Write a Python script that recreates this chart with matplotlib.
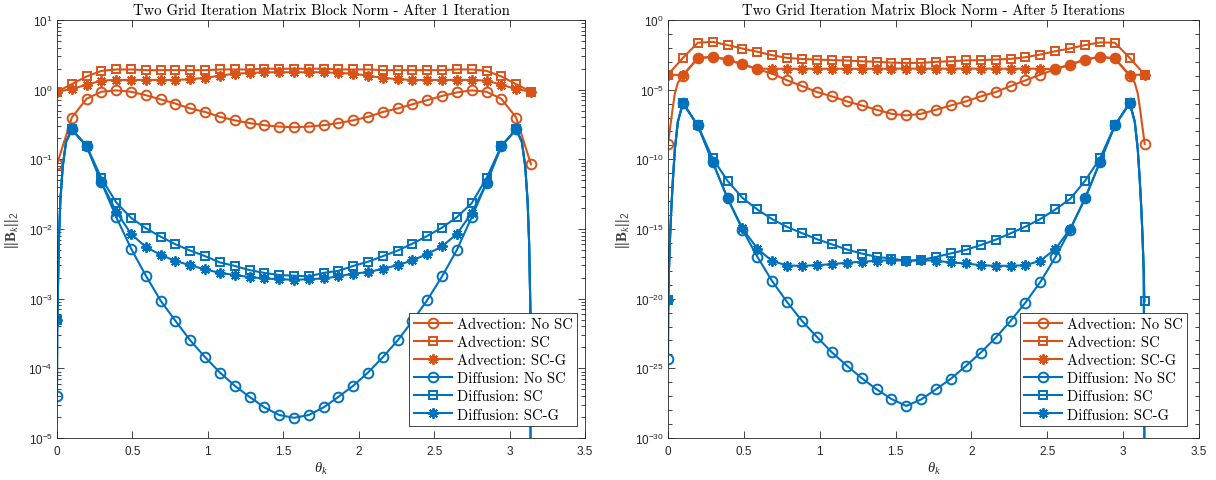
import numpy as np
import matplotlib
matplotlib.use("Agg")
import matplotlib.pyplot as plt
from matplotlib.ticker import FixedLocator, FuncFormatter, NullFormatter

plt.rcParams.update({
    "mathtext.fontset": "custom",
    "mathtext.rm": "Liberation Sans",
    "mathtext.it": "Liberation Serif:italic",
    "mathtext.bf": "Liberation Serif:bold",
    "font.family": "Liberation Sans",
})

# ---------------- data (log10 of the block norm) ----------------
theta = np.linspace(0, np.pi, 33)  # theta_k grid, k = 0..32
nan = np.nan

# After 1 iteration
adv_nosc_1 = [-1.07, -0.40, -0.13, -0.03, -0.01, -0.03, -0.08, -0.14, -0.20, -0.27, -0.32,
              -0.39, -0.44, -0.48, -0.51, -0.53, -0.54, -0.53, -0.51, -0.48, -0.44, -0.39,
              -0.32, -0.27, -0.21, -0.15, -0.09, -0.04, -0.01, -0.03, -0.13, -0.40, -1.07]
adv_sc_1 = [-0.03, 0.08, 0.19, 0.27, 0.29, 0.29, 0.28, 0.28, 0.28, 0.28, 0.28, 0.29, 0.29,
            0.29, 0.30, 0.30, 0.30, 0.30, 0.30, 0.29, 0.29, 0.29, 0.28, 0.28, 0.28, 0.28,
            0.28, 0.29, 0.29, 0.27, 0.19, 0.08, -0.03]
adv_scg_1 = [-0.03, 0.01, 0.07, 0.13, 0.14, 0.14, 0.14, 0.14, 0.14, 0.15, 0.17, 0.20, 0.23,
             0.24, 0.25, 0.25, 0.25, 0.25, 0.25, 0.24, 0.23, 0.20, 0.17, 0.15, 0.14, 0.14,
             0.14, 0.14, 0.14, 0.13, 0.07, 0.01, -0.03]
dif_nosc_1 = [-4.40, -0.57, -0.81, -1.33, -1.83, -2.28, -2.67, -3.03, -3.32, -3.60, -3.84,
              -4.06, -4.25, -4.41, -4.56, -4.67, -4.71, -4.67, -4.56, -4.41, -4.25, -4.06,
              -3.84, -3.60, -3.32, -3.02, -2.68, -2.30, -1.83, -1.34, -0.81, -0.57, nan]
dif_sc_1 = [-3.30, -0.57, -0.81, -1.27, -1.62, -1.84, -1.99, -2.11, -2.22, -2.31, -2.39,
            -2.48, -2.53, -2.59, -2.63, -2.66, -2.67, -2.68, -2.63, -2.60, -2.53, -2.47,
            -2.39, -2.31, -2.21, -2.10, -1.98, -1.83, -1.63, -1.27, -0.81, -0.57, -3.30]
dif_scg_1 = [-3.30, -0.57, -0.81, -1.33, -1.75, -2.07, -2.26, -2.37, -2.46, -2.52, -2.58,
             -2.63, -2.66, -2.69, -2.71, -2.72, -2.73, -2.72, -2.71, -2.68, -2.64, -2.62,
             -2.57, -2.52, -2.45, -2.36, -2.25, -2.07, -1.77, -1.34, -0.81, -0.57, nan]

# After 5 iterations
adv_nosc_5 = [-8.87, -4.00, -2.74, -2.64, -2.84, -3.18, -3.53, -3.85, -4.33, -4.74, -5.17,
              -5.48, -5.84, -6.13, -6.44, -6.73, -6.85, -6.73, -6.44, -6.13, -5.84, -5.48,
              -5.17, -4.74, -4.33, -3.92, -3.53, -3.20, -2.84, -2.64, -2.76, -4.01, -8.89]
adv_sc_5 = [-3.92, -2.72, -1.63, -1.57, -1.80, -2.05, -2.28, -2.53, -2.72, -2.80, -2.84,
            -2.88, -2.91, -2.96, -3.00, -3.06, -3.08, -3.08, -3.00, -2.96, -2.90, -2.88,
            -2.84, -2.79, -2.67, -2.48, -2.24, -2.04, -1.80, -1.61, -1.63, -2.72, -3.92]
adv_scg_5 = [-3.92, -3.95, -2.74, -2.64, -2.84, -3.18, -3.50, -3.50, -3.50, -3.50, -3.50,
             -3.50, -3.50, -3.50, -3.50, -3.49, -3.49, -3.49, -3.49, -3.49, -3.49, -3.49,
             -3.49, -3.50, -3.49, -3.50, -3.53, -3.20, -2.84, -2.64, -2.76, -3.95, -3.92]
dif_nosc_5 = [-24.3, -5.96, -7.57, -10.2, -12.8, -15.05, -17.0, -18.75, -20.25, -21.6, -22.75,
              -23.85, -24.8, -25.7, -26.5, -27.2, -27.7, -27.23, -26.5, -25.74, -24.83, -23.87,
              -22.8, -21.6, -20.28, -18.8, -17.04, -15.05, -12.8, -10.2, -7.57, -5.96, nan]
dif_sc_5 = [-20.1, -5.96, -7.57, -9.93, -11.55, -12.77, -13.6, -14.3, -14.85, -15.3, -15.73,
            -16.1, -16.47, -16.76, -17.0, -17.12, -17.28, -17.23, -17.0, -16.75, -16.5, -16.15,
            -15.77, -15.31, -14.83, -14.28, -13.6, -12.84, -11.54, -9.93, -7.57, -5.96, -20.2]
dif_scg_5 = [-20.1, -5.96, -7.57, -10.2, -12.8, -14.95, -16.42, -17.3, -17.62, -17.64, -17.6,
             -17.52, -17.42, -17.35, -17.28, -17.24, -17.28, -17.23, -17.28, -17.4, -17.47, -17.6,
             -17.64, -17.64, -17.6, -17.28, -16.44, -15.0, -12.8, -10.2, -7.57, -5.96, nan]

# extra points of the finely sampled curves next to theta = 0 and theta = pi
# (distance from the end of the interval, log10 value read off the picture)
edge_dist_1 = [0.005, 0.012, 0.022, 0.038, 0.06]
dif_edge_1 = [-3.0, -2.2, -1.6, -1.1, -0.75]
edge_dist_5 = [0.006, 0.014, 0.022, 0.032, 0.045, 0.065]
dif_edge_5 = [-18.0, -15.5, -13.5, -11.5, -9.3, -7.3]
adv_edge_dist_5 = [0.008, 0.018, 0.03, 0.045, 0.065]
adv_nosc_edge_5 = [-8.2, -7.4, -6.4, -5.3, -4.5]

labels = ["Advection: No SC", "Advection: SC", "Advection: SC-G",
          "Diffusion: No SC", "Diffusion: SC", "Diffusion: SC-G"]
titles = ["Two Grid Iteration Matrix Block Norm - After 1 Iteration",
          "Two Grid Iteration Matrix Block Norm - After 5 Iterations"]

ORANGE = "#D95319"
BLUE = "#0072BD"
AXC = "#262626"
ASTER = (8, 2, 0)
marker_style = {"o": 7.0, "s": 6.3, ASTER: 7.5}


def build(vals, edist, evals, tail):
    th = list(theta)
    v = list(vals)
    is_marker = [True] * len(th)
    if edist is not None:
        for d, e in zip(edist, evals):
            th.append(d); v.append(e); is_marker.append(False)
            if not np.isnan(vals[-1]) or tail is not None:
                th.append(np.pi - d); v.append(e); is_marker.append(False)
        if np.isnan(vals[-1]) and tail is not None:
            th.append(np.pi - 0.001); v.append(tail); is_marker.append(False)
    th = np.array(th); v = np.array(v, dtype=float); is_marker = np.array(is_marker)
    order = np.argsort(th, kind="stable")
    return th[order], 10.0 ** v[order], is_marker[order]


fig = plt.figure(figsize=(12.16, 4.81), dpi=100)
ax1 = fig.add_axes([57 / 1216, 42 / 481, 528 / 1216, 418 / 481])
ax2 = fig.add_axes([668 / 1216, 42 / 481, 531 / 1216, 418 / 481])

panels = [
    (ax1, [adv_nosc_1, adv_sc_1, adv_scg_1, dif_nosc_1, dif_sc_1, dif_scg_1],
     [None, None, None, (edge_dist_1, dif_edge_1), (edge_dist_1, dif_edge_1), (edge_dist_1, dif_edge_1)],
     -6.5, (1e-5, 1e1), 0.985),
    (ax2, [adv_nosc_5, adv_sc_5, adv_scg_5, dif_nosc_5, dif_sc_5, dif_scg_5],
     [(adv_edge_dist_5, adv_nosc_edge_5), None, None, (edge_dist_5, dif_edge_5),
      (edge_dist_5, dif_edge_5), (edge_dist_5, dif_edge_5)],
     -32.0, (1e-30, 1e0), 0.978),
]

markers = ["o", "s", ASTER, "o", "s", ASTER]
colors = [ORANGE] * 3 + [BLUE] * 3

for ax, series, edges, tail, ylim, leg_x in panels:
    for vals, edge, mk, col, lab in zip(series, edges, markers, colors, labels):
        if edge is None:
            th, y, mask = build(vals, None, None, None)
        else:
            th, y, mask = build(vals, edge[0], edge[1], tail)
        ax.plot(th, y, color=col, lw=1.5, marker=mk, ms=marker_style[mk],
                mfc="none", mec=col, mew=1.4, markevery=list(mask), label=lab,
                clip_on=True)
    ax.set_yscale("log")
    ax.set_xlim(0, 3.5)
    ax.set_ylim(*ylim)
    ax.set_xticks([0, 0.5, 1, 1.5, 2, 2.5, 3, 3.5])
    ax.xaxis.set_major_formatter(FuncFormatter(lambda v, p: ("%g" % v)))
    lo, hi = int(round(np.log10(ylim[0]))), int(round(np.log10(ylim[1])))
    if hi - lo > 10:
        majors = [10.0 ** e for e in range(lo, hi + 1, 5)]
        minors = [10.0 ** e for e in range(lo, hi + 1) if e % 5 != 0]
    else:
        majors = [10.0 ** e for e in range(lo, hi + 1)]
        minors = [m * 10.0 ** e for e in range(lo, hi) for m in range(2, 10)]
    ax.yaxis.set_major_locator(FixedLocator(majors))
    ax.yaxis.set_minor_locator(FixedLocator(minors))
    ax.yaxis.set_minor_formatter(NullFormatter())
    ax.yaxis.set_major_formatter(
        FuncFormatter(lambda v, p: r"$\mathrm{10^{%d}}$" % int(round(np.log10(v)))))
    ax.tick_params(which="both", direction="in", top=True, right=True,
                   colors=AXC, labelsize=8.5, width=0.6)
    ax.tick_params(which="major", length=5)
    ax.tick_params(which="minor", length=2.8)
    ax.tick_params(axis="x", pad=5)
    ax.tick_params(axis="y", pad=3)
    for s in ax.spines.values():
        s.set_color(AXC)
        s.set_linewidth(0.6)
    ax.set_xlabel(r"$\theta_k$", fontsize=10.5, color=AXC)
    ax.xaxis.set_label_coords(0.5, -0.052)
    ax.set_ylabel(r"$||\mathbf{B}_k||_2$", fontsize=10.5, color="#404040")
    ax.yaxis.set_label_coords(-0.068, 0.5)
    leg = ax.legend(loc="lower right", bbox_to_anchor=(leg_x, 0.029), borderaxespad=0,
                    prop={"family": "cmr10", "size": 10.5}, frameon=True, fancybox=False,
                    framealpha=1, edgecolor=AXC, handlelength=2.6, handletextpad=0.35,
                    labelspacing=0.3, borderpad=0.3)
    leg.get_frame().set_linewidth(0.6)
    leg.set_zorder(10)

ax1.set_title(titles[0], fontfamily="cmr10", fontsize=10.6, pad=4)
ax2.set_title(titles[1], fontfamily="cmr10", fontsize=10.6, pad=4)

fig.savefig("out.png", dpi=100, facecolor="white")
